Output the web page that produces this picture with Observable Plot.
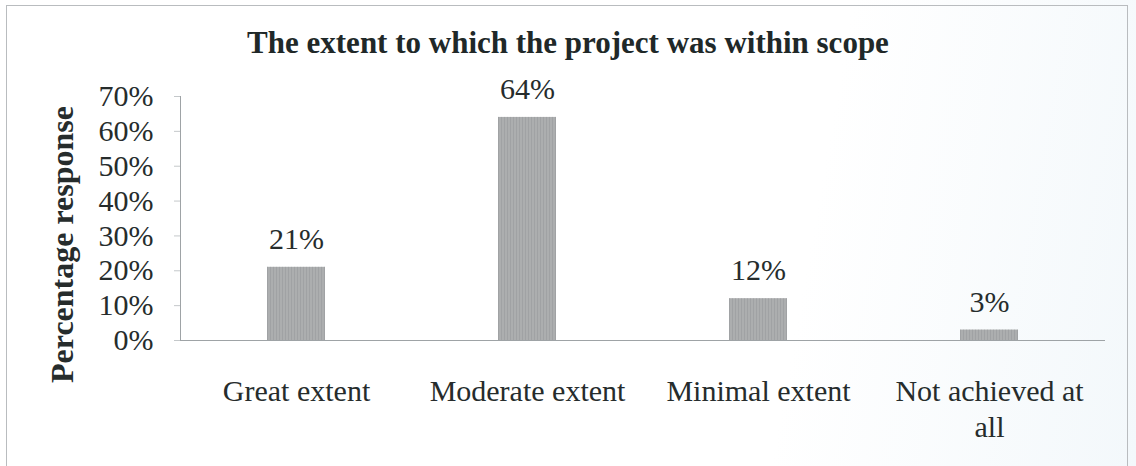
<!DOCTYPE html>
<html>
<head>
<meta charset="utf-8">
<script src="https://cdn.jsdelivr.net/npm/d3@7"></script>
<script src="https://cdn.jsdelivr.net/npm/@observablehq/plot@0.6"></script>
<style>
  html, body { margin: 0; padding: 0; background: #fff; }
  #wrap {
    position: relative; width: 1136px; height: 466px; overflow: hidden;
    background: linear-gradient(100deg, #ffffff 0%, #ffffff 70%, #f3f8fb 100%);
    font-family: "Liberation Serif", "Times New Roman", serif;
  }
  #frame {
    position: absolute; left: 6px; top: 5px; width: 1122px; height: 480px;
    border: 1px solid #b9bcbf; box-sizing: border-box; pointer-events: none;
  }
  #title {
    position: absolute; left: 0; top: 27px; width: 1136px; text-align: center;
    font-family: "Liberation Serif", "Times New Roman", serif;
    font-weight: bold; font-size: 31px; color: #202828; padding-left: 0px;
    line-height: 32px;
  }
  #chart { position: absolute; left: 0; top: 0; }
</style>
</head>
<body>
<div id="wrap">
  <div id="frame"></div>
  <div id="title">The extent to which the project was within scope</div>
  <div id="chart"></div>
</div>
<script>
const categories = ["Great extent", "Moderate extent", "Minimal extent", "Not achieved at\nall"];
const values = [21, 64, 12, 3];
const yTicks = [0, 10, 20, 30, 40, 50, 60, 70];
const yLabel = "Percentage response";

const data = categories.map((c, i) => ({category: c, value: values[i]}));
const serif = "'Liberation Serif', 'Times New Roman', serif";
const ink = "#262c2c";

const chart = Plot.plot({
  width: 1136,
  height: 466,
  marginTop: 96,
  marginBottom: 126,
  marginLeft: 180,
  marginRight: 31,
  style: {background: "transparent", fontFamily: serif, color: ink},
  x: {domain: categories, paddingInner: 0.75, paddingOuter: 0.375, label: null},
  y: {domain: [0, 70], label: null},
  marks: [
    Plot.barY(data, {x: "category", y: "value", fill: "#acaeaf"}),
    Plot.barY(data, {x: "category", y: "value", fill: "url(#stripes)"}),
    Plot.frame({anchor: "left", stroke: "#9ea3a6", strokeWidth: 1}),
    Plot.ruleY([0], {stroke: "#9ea3a6", strokeWidth: 1.2}),
    Plot.axisY({ticks: yTicks, tickFormat: d => d + "%", tickSize: 6, tickPadding: 21,
      stroke: "#c4c8ca", fontSize: 30, fontFamily: serif, fill: ink, label: null}),
    Plot.axisX({tickSize: 0, tickPadding: 35, fontSize: 30, fontFamily: serif, fill: ink,
      lineHeight: 1.2, label: null}),
    Plot.text(data, {x: "category", y: "value", text: d => d.value + "%", dy: -28,
      fontSize: 30, fontFamily: serif, fill: ink}),
    Plot.text([yLabel], {frameAnchor: "left", dx: -118, dy: 26, rotate: -90,
      textAnchor: "middle", lineAnchor: "middle",
      fontSize: 32, fontWeight: "bold", fontFamily: serif, fill: ink, text: d => d})
  ]
});

// subtle vertical texture pattern for the bars
const svgNS = "http://www.w3.org/2000/svg";
const defs = document.createElementNS(svgNS, "defs");
const pat = document.createElementNS(svgNS, "pattern");
pat.setAttribute("id", "stripes");
pat.setAttribute("patternUnits", "userSpaceOnUse");
pat.setAttribute("width", "3");
pat.setAttribute("height", "3");
const r = document.createElementNS(svgNS, "rect");
r.setAttribute("width", "1"); r.setAttribute("height", "3");
r.setAttribute("fill", "#8f9293"); r.setAttribute("opacity", "0.4");
pat.appendChild(r);
defs.appendChild(pat);
chart.insertBefore(defs, chart.firstChild);

document.getElementById("chart").appendChild(chart);
</script>
</body>
</html>
